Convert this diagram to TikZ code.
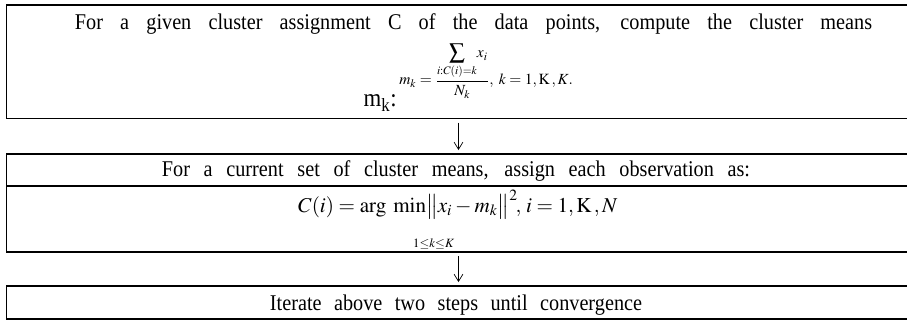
\documentclass[tikz,border=0pt]{standalone}
\usepackage{mathptmx}
\usepackage{fontspec}
\setmainfont{Liberation Serif}[FakeStretch=0.9]
\usepackage{tikz}
\usetikzlibrary{positioning,arrows.meta}

\tikzset{
  stepbox/.style={draw, line width=1pt, minimum width=22.6cm, inner sep=0pt, outer sep=0pt},
  flow/.style={-{Straight Barb[length=1.8mm,width=2.2mm]}, line width=0.5pt, shorten >=0.1cm, shorten <=0.1cm}
}

\begin{document}
\begin{tikzpicture}[
  x=0.025cm, y=-0.025cm,
  every node/.style={font=\fontsize{16}{19}\selectfont}]
  \useasboundingbox (0,0) rectangle (907,321);
  % the three steps
  \node (box1) [stepbox, minimum height=2.8375cm] at (458.5,61.75) {};
  \node (box2a) [stepbox, minimum height=0.8cm, below=0.8875cm of box1] {};
  \node (box2b) [stepbox, minimum height=1.65cm, below=0pt of box2a] {};
  \node (box3) [stepbox, minimum height=0.825cm, below=0.85cm of box2b] {};
  % texts
  \node (line1) [anchor=base, inner sep=0pt] at (473.5,30) {\makebox[19.925cm][s]{For a given cluster assignment C of the data points, compute the cluster means}};
  \node (mklabel) [anchor=base east, inner sep=0pt, font=\fontsize{18}{21}\selectfont] at (397,107) {m\textsubscript{k}:};
  \node (meanfml) [anchor=base west, inner sep=0pt, font=\fontsize{11}{13}\selectfont] at (399,85)
    {$\displaystyle m_k=\frac{{\displaystyle\sum_{i:C(i)=k}} x_i}{N_k},\ k=1,\mathrm{K}\,,K.$};
  \node (line2) [anchor=base, inner sep=0pt] at (456,177) {\makebox[14.7cm][s]{For a current set of cluster means, assign each observation as:}};
  \node (assignfml) [anchor=base west, inner sep=0pt, font=\fontsize{15}{18}\selectfont] at (298,212)
    {$\displaystyle C(i)=\mathrm{arg}\;\mathop{\mathrm{min}}\limits_{\lower 16pt\hbox to 0pt{\hss\kern 34pt$\scriptscriptstyle 1\le k\le K$\hss}}\!\smash{\left\|\rule[-5pt]{0pt}{17.5pt}x_i-m_k\right\|^2}\!,\,i=1,\mathrm{K}\,,N$};
  \node (line3) [anchor=base, inner sep=0pt] at (456,310) {\makebox[9.3cm][s]{Iterate above two steps until convergence}};
  % arrows
  \draw[flow] (box1) -- (box2a);
  \draw[flow] (box2b) -- (box3);
\end{tikzpicture}
\end{document}
